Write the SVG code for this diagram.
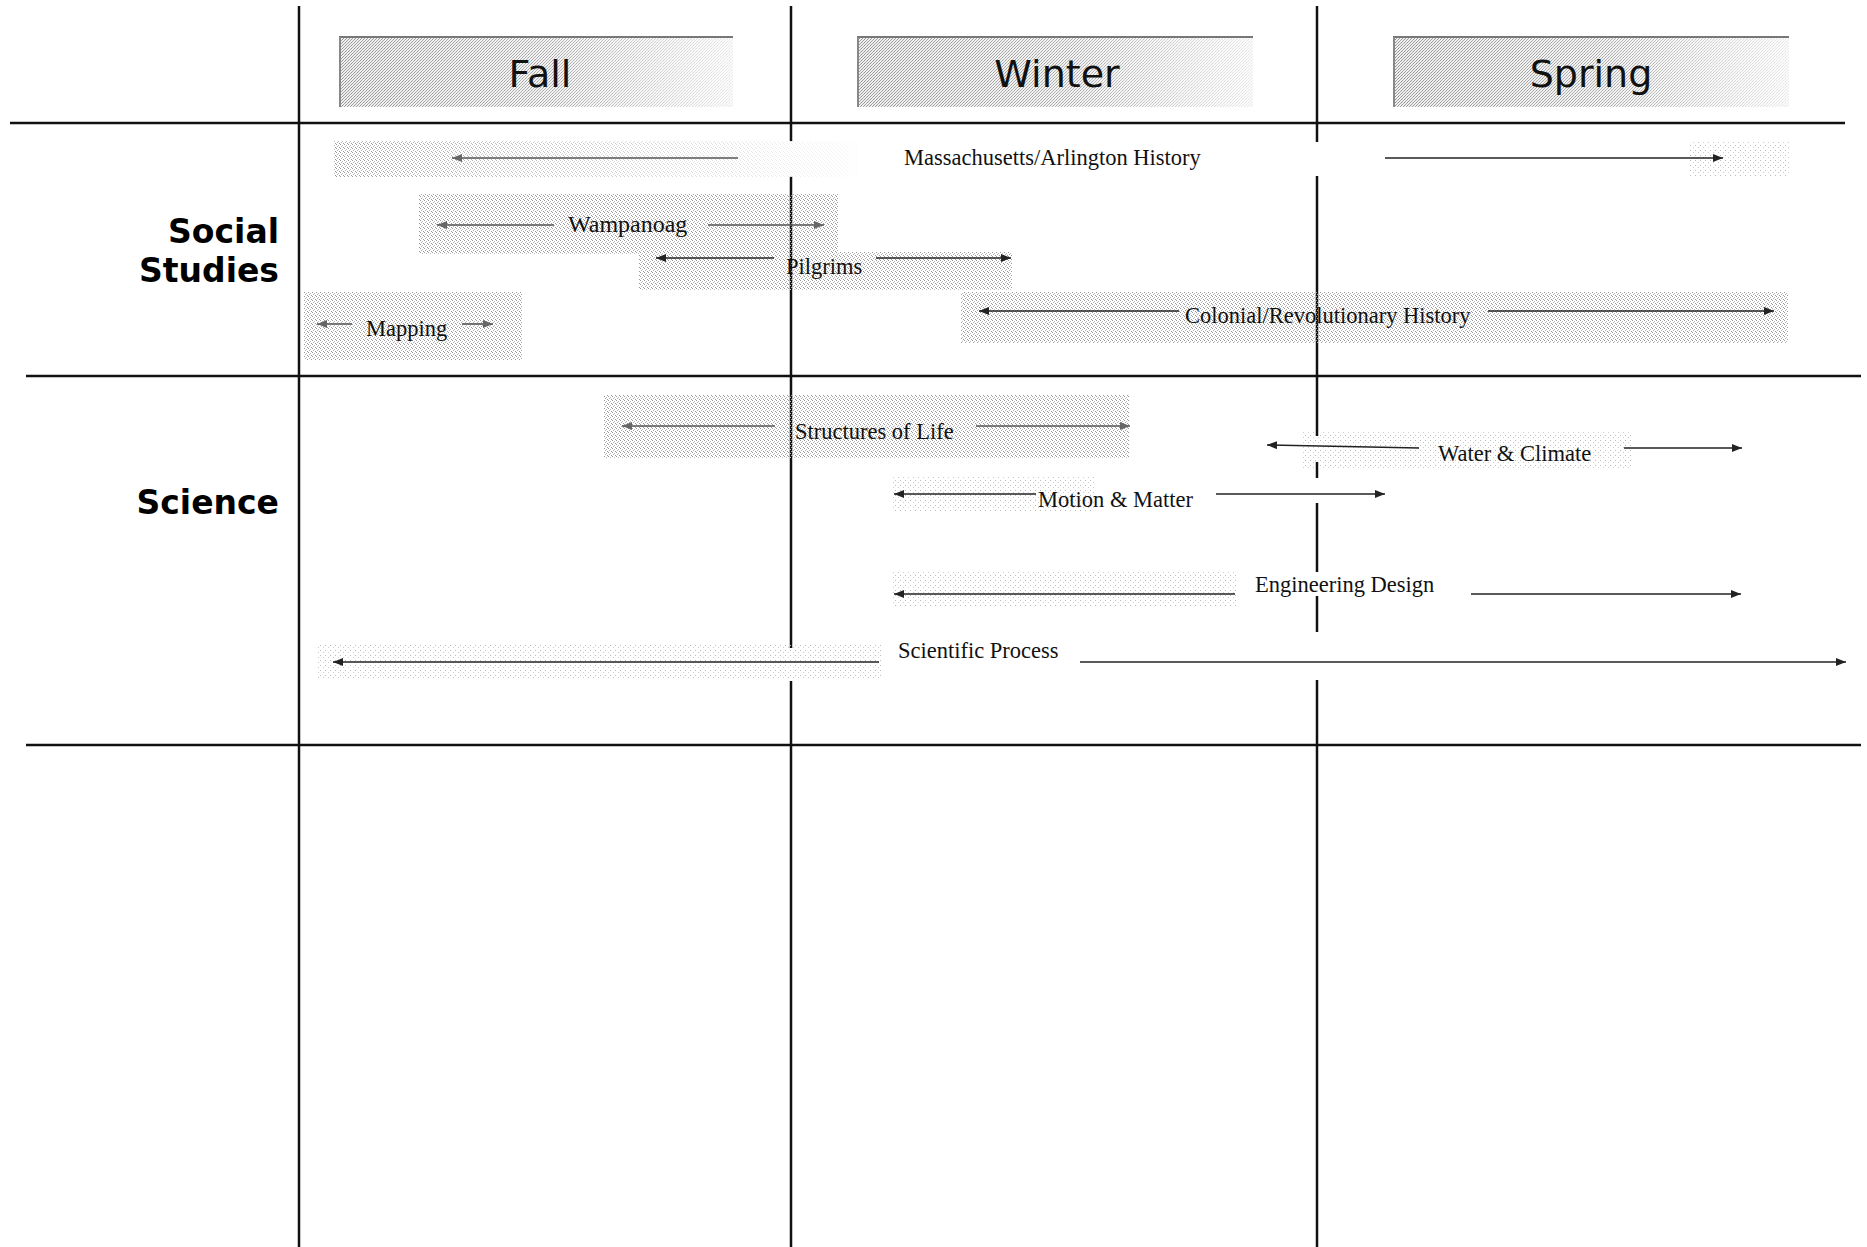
<svg xmlns="http://www.w3.org/2000/svg" width="1867" height="1247" viewBox="0 0 1867 1247">
<style>
.grid{stroke:#111;stroke-width:2.5;fill:none}
.hdr{font-family:"DejaVu Sans",Verdana,sans-serif;font-size:38px;fill:#111;text-anchor:middle}
.row{font-family:"DejaVu Sans","Liberation Sans",sans-serif;font-weight:bold;font-size:33px;fill:#000;text-anchor:end}
.lbl{font-family:"Liberation Serif","Times New Roman",serif;font-size:22.5px;fill:#111}
.arr{stroke:#222;stroke-width:1.6;fill:none;marker-end:url(#ah)}
.arrg{stroke:#555;stroke-width:1.6;fill:none;marker-end:url(#ahg)}
.band{fill:url(#stip)}
.bandl{fill:url(#stipl)}
.hbox{fill:url(#stipd)}
</style>
<defs>
<pattern id="stip" width="4" height="4" patternUnits="userSpaceOnUse">
<rect x="0" y="0" width="1" height="1" fill="#999"/><rect x="2" y="1" width="1" height="1" fill="#bbb"/><rect x="1" y="2" width="1" height="1" fill="#aaa"/><rect x="3" y="3" width="1" height="1" fill="#999"/>
</pattern>
<pattern id="stipl" width="5" height="5" patternUnits="userSpaceOnUse">
<rect x="0" y="0" width="1" height="1" fill="#bbb"/><rect x="3" y="2" width="1" height="1" fill="#ccc"/>
</pattern>
<pattern id="stipd" width="3" height="3" patternUnits="userSpaceOnUse">
<rect width="3" height="3" fill="#eeeeee"/><rect x="0" y="0" width="1" height="1" fill="#8a8a8a"/><rect x="2" y="1" width="1" height="1" fill="#a0a0a0"/><rect x="1" y="2" width="1" height="1" fill="#999"/>
</pattern>
<linearGradient id="fadeR" x1="0" y1="0" x2="1" y2="0">
<stop offset="0" stop-color="#fff" stop-opacity="0.05"/><stop offset="0.55" stop-color="#fff" stop-opacity="0.25"/><stop offset="1" stop-color="#fff" stop-opacity="0.8"/>
</linearGradient>
<linearGradient id="fadeR2" x1="0" y1="0" x2="1" y2="0">
<stop offset="0" stop-color="#fff" stop-opacity="0"/><stop offset="0.3" stop-color="#fff" stop-opacity="0.3"/><stop offset="1" stop-color="#fff" stop-opacity="0.95"/>
</linearGradient>
<marker id="ah" viewBox="0 0 10 8" refX="10" refY="4" markerWidth="10" markerHeight="8" markerUnits="userSpaceOnUse" orient="auto">
<path d="M0,0 L10,4 L0,8 z" fill="#222"/>
</marker>
<marker id="ahg" viewBox="0 0 10 8" refX="10" refY="4" markerWidth="10" markerHeight="8" markerUnits="userSpaceOnUse" orient="auto">
<path d="M0,0 L10,4 L0,8 z" fill="#666"/>
</marker>
</defs>
<rect width="1867" height="1247" fill="#fff"/>

<g id="grid">
<line class="grid" x1="10" y1="123" x2="1845" y2="123"/>
<line class="grid" x1="26" y1="376" x2="1861" y2="376"/>
<line class="grid" x1="26" y1="745" x2="1861" y2="745"/>
<line class="grid" x1="299" y1="6" x2="299" y2="1247"/>
<line class="grid" x1="791" y1="6" x2="791" y2="142"/>
<line class="grid" x1="791" y1="176" x2="791" y2="648"/>
<line class="grid" x1="791" y1="681" x2="791" y2="1247"/>
<line class="grid" x1="1317" y1="6" x2="1317" y2="142"/>
<line class="grid" x1="1317" y1="176" x2="1317" y2="436"/>
<line class="grid" x1="1317" y1="462" x2="1317" y2="478"/>
<line class="grid" x1="1317" y1="503" x2="1317" y2="572"/>
<line class="grid" x1="1317" y1="596" x2="1317" y2="632"/>
<line class="grid" x1="1317" y1="680" x2="1317" y2="1247"/>
</g>

<g id="header-fall">
<rect class="hbox" x="339" y="36" width="394" height="71"/>
<rect x="339" y="36" width="394" height="71" fill="url(#fadeR)"/>
<line x1="339" y1="37" x2="733" y2="37" stroke="#777" stroke-width="2"/>
<line x1="340" y1="37" x2="340" y2="107" stroke="#888" stroke-width="2"/>
<text class="hdr" x="540" y="87">Fall</text>
</g>
<g id="header-winter">
<rect class="hbox" x="857" y="36" width="396" height="71"/>
<rect x="857" y="36" width="396" height="71" fill="url(#fadeR)"/>
<line x1="857" y1="37" x2="1253" y2="37" stroke="#777" stroke-width="2"/>
<line x1="858" y1="37" x2="858" y2="107" stroke="#888" stroke-width="2"/>
<text class="hdr" x="1057" y="87">Winter</text>
</g>
<g id="header-spring">
<rect class="hbox" x="1393" y="36" width="396" height="71"/>
<rect x="1393" y="36" width="396" height="71" fill="url(#fadeR)"/>
<line x1="1393" y1="37" x2="1789" y2="37" stroke="#777" stroke-width="2"/>
<line x1="1394" y1="37" x2="1394" y2="107" stroke="#888" stroke-width="2"/>
<text class="hdr" x="1591" y="87">Spring</text>
</g>

<g id="row-social-studies">
<text class="row" x="279" y="243">Social</text>
<text class="row" x="279" y="282">Studies</text>
</g>
<g id="row-science">
<text class="row" x="279" y="514">Science</text>
</g>

<g id="massachusetts-history">
<rect class="band" x="334" y="141" width="524" height="36"/>
<rect x="334" y="141" width="524" height="36" fill="url(#fadeR2)"/>
<rect class="bandl" x="1690" y="141" width="100" height="36"/>
<text class="lbl" x="904" y="165">Massachusetts/Arlington History</text>
</g>
<g id="wampanoag">
<rect class="band" x="419" y="194" width="419" height="60"/>
<text class="lbl" x="568" y="232" style="font-size:24px">Wampanoag</text>
</g>
<g id="pilgrims">
<rect class="band" x="639" y="252" width="373" height="38"/>
<text class="lbl" x="786" y="274">Pilgrims</text>
</g>
<g id="colonial-revolutionary-history">
<rect class="band" x="961" y="292" width="827" height="51"/>
<text class="lbl" x="1185" y="323">Colonial/Revolutionary History</text>
</g>
<g id="mapping">
<rect class="band" x="304" y="292" width="218" height="68"/>
<text class="lbl" x="366" y="336">Mapping</text>
</g>
<g id="structures-of-life">
<rect class="band" x="604" y="395" width="525" height="63"/>
<text class="lbl" x="795" y="439">Structures of Life</text>
</g>
<g id="water-climate">
<rect class="bandl" x="1301" y="431" width="330" height="39"/>
<text class="lbl" x="1438" y="461">Water &amp; Climate</text>
</g>
<g id="motion-matter">
<rect class="bandl" x="893" y="476" width="202" height="36"/>
<text class="lbl" x="1038" y="507">Motion &amp; Matter</text>
</g>
<g id="engineering-design">
<rect class="bandl" x="893" y="572" width="345" height="35"/>
<text class="lbl" x="1255" y="592">Engineering Design</text>
</g>
<g id="scientific-process">
<rect class="bandl" x="316" y="643" width="565" height="36"/>
<text class="lbl" x="898" y="658">Scientific Process</text>
</g>

<g id="connectors">
<line class="arrg" x1="738" y1="158" x2="452" y2="158"/>
<line class="arr" x1="1385" y1="158" x2="1723" y2="158"/>
<line class="arrg" x1="554" y1="225" x2="437" y2="225"/>
<line class="arrg" x1="708" y1="225" x2="824" y2="225"/>
<line class="arr" x1="774" y1="258" x2="656" y2="258"/>
<line class="arr" x1="876" y1="258" x2="1011" y2="258"/>
<line class="arr" x1="1179" y1="311" x2="979" y2="311"/>
<line class="arr" x1="1488" y1="311" x2="1774" y2="311"/>
<line class="arrg" x1="352" y1="324" x2="317" y2="324"/>
<line class="arrg" x1="462" y1="324" x2="493" y2="324"/>
<line class="arrg" x1="775" y1="426" x2="622" y2="426"/>
<line class="arrg" x1="976" y1="426" x2="1130" y2="426"/>
<line class="arr" x1="1419" y1="448" x2="1267" y2="445"/>
<line class="arr" x1="1624" y1="448" x2="1742" y2="448"/>
<line class="arr" x1="1036" y1="494" x2="894" y2="494"/>
<line class="arr" x1="1216" y1="494" x2="1385" y2="494"/>
<line class="arr" x1="1235" y1="594" x2="894" y2="594"/>
<line class="arr" x1="1471" y1="594" x2="1741" y2="594"/>
<line class="arr" x1="879" y1="662" x2="333" y2="662"/>
<line class="arr" x1="1080" y1="662" x2="1846" y2="662"/>
</g>
</svg>
